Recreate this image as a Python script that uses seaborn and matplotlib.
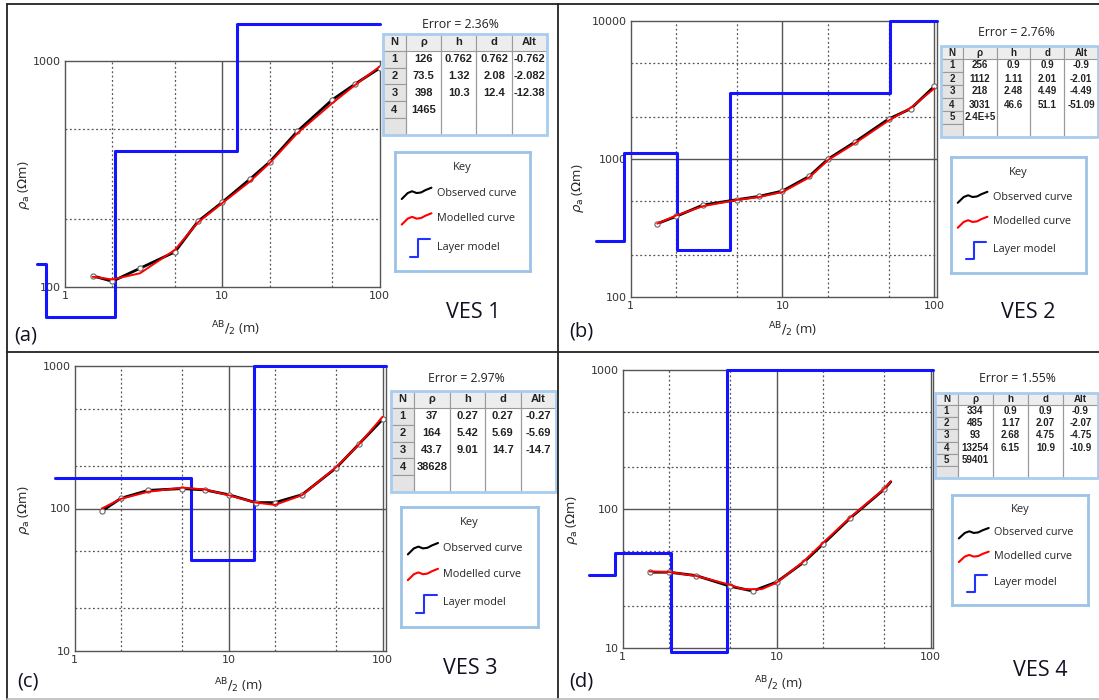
import matplotlib.pyplot as plt
import numpy as np
import seaborn as sns
from matplotlib.lines import Line2D
from matplotlib.patches import Rectangle
from matplotlib.ticker import LogLocator, NullFormatter

sns.set_style("white")
plt.rcParams["font.family"] = ["Open Sans", "DejaVu Sans"]
plt.rcParams["mathtext.fontset"] = "dejavusans"

# %%
# sounding data: AB/2 (m) vs apparent resistivity (ohm-m)
ves1_ab2 = [1.5, 2, 3, 5, 7, 10, 15, 20, 30, 50, 70, 100]
ves1_obs = [112, 106, 121, 143, 195, 237, 300, 357, 488, 673, 791, 929]
ves1_mod = [111, 108, 115, 146, 193, 235, 293, 353, 479, 650, 783, 944]
ves1_rho = [126, 73.5, 398, 1465]
ves1_depth = [0.762, 2.08, 12.4]
ves1_table = [["1", "126", "0.762", "0.762", "-0.762"],
              ["2", "73.5", "1.32", "2.08", "-2.082"],
              ["3", "398", "10.3", "12.4", "-12.38"],
              ["4", "1465", "", "", ""]]

ves2_ab2 = [1.5, 2, 3, 5, 7, 10, 15, 20, 30, 50, 70, 100]
ves2_obs = [340, 384, 464, 507, 536, 586, 749, 1000, 1328, 1950, 2318, 3365]
ves2_mod = [340, 390, 455, 505, 530, 576, 735, 985, 1300, 1900, 2350, 3250]
ves2_rho = [256, 1112, 218, 3031, 2.4e5]
ves2_depth = [0.9, 2.01, 4.49, 51.1]
ves2_table = [["1", "256", "0.9", "0.9", "-0.9"],
              ["2", "1112", "1.11", "2.01", "-2.01"],
              ["3", "218", "2.48", "4.49", "-4.49"],
              ["4", "3031", "46.6", "51.1", "-51.09"],
              ["5", "2.4E+5", "", "", ""]]

ves3_ab2 = [1.5, 2, 3, 5, 7, 10, 15, 20, 30, 50, 70, 100]
ves3_obs = [96, 118, 134, 138, 135, 125, 110, 110, 125, 193, 282, 422]
ves3_mod = [100, 117, 131, 140, 136, 124, 110, 106, 124, 195, 280, 440]
ves3_rho = [37, 164, 43.7, 38628]
ves3_depth = [0.27, 5.69, 14.7]
ves3_table = [["1", "37", "0.27", "0.27", "-0.27"],
              ["2", "164", "5.42", "5.69", "-5.69"],
              ["3", "43.7", "9.01", "14.7", "-14.7"],
              ["4", "38628", "", "", ""]]

ves4_ab2 = [1.5, 2, 3, 5, 7, 10, 15, 20, 30, 50]
ves4_obs = [35.1, 35.1, 33.2, 27.8, 25.7, 29.8, 41.4, 56, 86, 139]
ves4_curve_ab2 = [1.5, 2, 3, 5, 7, 10, 15, 20, 30, 50, 55]
ves4_curve_obs = [35.1, 35.1, 33.2, 27.8, 25.7, 29.8, 41.4, 56, 86, 139, 157]
ves4_mod_ab2 = [1.5, 2, 3, 5, 6, 8, 10, 15, 20, 30, 50, 55]
ves4_mod = [35.5, 35.2, 33, 28.5, 26.5, 26.5, 29.5, 42, 57, 87, 140, 158]
ves4_rho = [33.4, 48.5, 9.3, 1325.4, 5940.1]
ves4_depth = [0.9, 2.07, 4.75, 10.9]
ves4_table = [["1", "334", "0.9", "0.9", "-0.9"],
              ["2", "485", "1.17", "2.07", "-2.07"],
              ["3", "93", "2.68", "4.75", "-4.75"],
              ["4", "13254", "6.15", "10.9", "-10.9"],
              ["5", "59401", "", "", ""]]

errors = ["2.36%", "2.76%", "2.97%", "1.55%"]
names = ["VES 1", "VES 2", "VES 3", "VES 4"]
tags = ["(a)", "(b)", "(c)", "(d)"]
col_labels = ["N", "ρ", "h", "d", "Alt"]

panels = [
    dict(pts=(ves1_ab2, ves1_obs), obs=(ves1_ab2, ves1_obs), mod=(ves1_ab2, ves1_mod),
         rho=ves1_rho, depth=ves1_depth, table=ves1_table,
         xmax=100, ylim=(100, 1000), yticks=[100, 1000], x0=0.66, cap=2000, tfs=8),
    dict(pts=(ves2_ab2, ves2_obs), obs=(ves2_ab2, ves2_obs), mod=(ves2_ab2, ves2_mod),
         rho=ves2_rho, depth=ves2_depth, table=ves2_table,
         xmax=104, ylim=(100, 10000), yticks=[100, 1000, 10000], x0=0.59, cap=10000, tfs=7),
    dict(pts=(ves3_ab2, ves3_obs), obs=(ves3_ab2, ves3_obs), mod=(ves3_ab2, ves3_mod),
         rho=ves3_rho, depth=ves3_depth, table=ves3_table,
         xmax=105, ylim=(10, 1000), yticks=[10, 100, 1000], x0=0.74, cap=1000, tfs=8),
    dict(pts=(ves4_ab2, ves4_obs), obs=(ves4_curve_ab2, ves4_curve_obs), mod=(ves4_mod_ab2, ves4_mod),
         rho=ves4_rho, depth=ves4_depth, table=ves4_table,
         xmax=104, ylim=(10, 1000), yticks=[10, 100, 1000], x0=0.61, cap=1000, tfs=7),
]

# pixel layout of each panel (x0, y0, x1, y1 from top-left)
layout = [
    dict(ax=(65, 61, 379.5, 287), table=(383, 34, 547, 135), key=(395, 152, 530, 271),
         err=(460, 24), ves=(473, 313), tag=(26, 336), ylab=(32, 185), xlab=(235, 319)),
    dict(ax=(630.5, 21, 937, 297), table=(941, 46, 1098, 137), key=(951, 157, 1086, 273),
         err=(1016, 32), ves=(1028, 313), tag=(581, 332), ylab=(586, 188), xlab=(792, 320)),
    dict(ax=(74.7, 366, 385.8, 651), table=(391, 391, 556, 492), key=(401, 507, 538, 627),
         err=(466, 378), ves=(470, 668), tag=(28, 682), ylab=(32, 510), xlab=(238, 676)),
    dict(ax=(622.5, 370, 933.4, 648), table=(935, 393, 1098, 478), key=(952, 495, 1088, 605),
         err=(1017, 378), ves=(1040, 671), tag=(581, 682), ylab=(580, 520), xlab=(778, 674)),
]

W, H = 1099, 700
fig = plt.figure(figsize=(W / 100, H / 100), dpi=100)


def rect(box):
    x0, y0, x1, y1 = box
    return [x0 / W, 1 - y1 / H, (x1 - x0) / W, (y1 - y0) / H]


def layer_steps(rho, depth, x0, x1, cap):
    skip = sum(d <= x0 for d in depth)
    xs = [x0] + [d for d in depth if d > x0] + [x1]
    ys = list(rho[skip:]) + [rho[-1]]
    return xs, list(np.minimum(ys, cap))


def draw_table(box, rows, fs):
    ax_t = fig.add_axes(rect(box))
    ax_t.set_axis_off()
    cells = [list(r) for r in rows] + [[""] * 5]
    tbl = ax_t.table(cellText=cells, colLabels=col_labels,
                     colWidths=[0.14, 0.215, 0.215, 0.215, 0.215],
                     bbox=[0, 0, 1, 1], cellLoc="center")
    tbl.auto_set_font_size(False)
    for (r, c), cell in tbl.get_celld().items():
        cell.set_text_props(fontsize=fs, family="Liberation Sans",
                            fontweight="bold", color="#222222")
        cell.set_edgecolor("#9a9a9a")
        cell.set_linewidth(0.8)
        cell.PAD = 0.03
        if r == 0:
            cell.set_facecolor("#ededed")
        elif c == 0:
            cell.set_facecolor("#e4e4e4")
        else:
            cell.visible_edges = "LR"
    ax_t.add_patch(Rectangle((0, 0), 1, 1, transform=ax_t.transAxes, fill=False,
                             ec="#a9cdee", lw=2, clip_on=False))


def draw_key(box):
    ax_k = fig.add_axes(rect(box))
    ax_k.set_xlim(0, 1)
    ax_k.set_ylim(0, 1)
    ax_k.set_xticks([])
    ax_k.set_yticks([])
    for sp in ax_k.spines.values():
        sp.set_color("#9dc3e6")
        sp.set_linewidth(2)
    ax_k.text(0.5, 0.87, "Key", ha="center", va="center", fontsize=8)
    wig_x = np.array([0.0, 0.2, 0.35, 0.5, 0.65, 0.8, 1.0])
    wig_y = np.array([-0.5, 0.0, 0.15, 0.0, 0.05, 0.25, 0.45])
    for yy, col in [(0.655, "black"), (0.44, "red")]:
        ax_k.add_line(Line2D(0.05 + 0.22 * wig_x, yy + 0.1 * wig_y, color=col, lw=1.5))
    ax_k.add_line(Line2D([0.11, 0.17, 0.17, 0.26], [0.12, 0.12, 0.27, 0.27], color="#2233ff", lw=1.5))
    for yy, lab in [(0.655, "Observed curve"), (0.44, "Modelled curve"), (0.2, "Layer model")]:
        ax_k.text(0.31, yy, lab, ha="left", va="center", fontsize=7.8)


for p, lay, err, name, tag in zip(panels, layout, errors, names, tags):
    ax = fig.add_axes(rect(lay["ax"]))
    ax.set_xscale("log")
    ax.set_yscale("log")
    ax.set_xlim(1, p["xmax"])
    ax.set_ylim(*p["ylim"])

    # grid: solid at decades, dotted at 2 and 5
    for dec in [1, 10, 100, 1000, 10000]:
        if 1 < dec < p["xmax"]:
            ax.axvline(dec, color="#555555", lw=1, zorder=0.5)
        if p["ylim"][0] < dec < p["ylim"][1]:
            ax.axhline(dec, color="#555555", lw=1, zorder=0.5)
        for m in (2, 5):
            if 1 < dec * m < p["xmax"]:
                ax.axvline(dec * m, color="#555555", lw=0.9, ls=(0, (1.5, 2)), zorder=0.5)
            if p["ylim"][0] < dec * m < p["ylim"][1]:
                ax.axhline(dec * m, color="#555555", lw=0.9, ls=(0, (1.5, 2)), zorder=0.5)

    lx, ly = layer_steps(p["rho"], p["depth"], p["x0"], p["xmax"], p["cap"])
    sns.lineplot(x=lx, y=ly, drawstyle="steps-post", color="#1414ff", lw=2.2,
                 clip_on=False, zorder=3, legend=False, ax=ax)
    sns.lineplot(x=p["obs"][0], y=p["obs"][1], color="black", lw=2.0,
                 zorder=4, legend=False, ax=ax)
    sns.scatterplot(x=p["pts"][0], y=p["pts"][1], marker="o", s=14, facecolor="white",
                    edgecolor="#666666", linewidth=0.8, zorder=5, legend=False, ax=ax)
    sns.lineplot(x=p["mod"][0], y=p["mod"][1], color="#ff0000", lw=1.4,
                 zorder=6, legend=False, ax=ax)

    xt = [t for t in [1, 10, 100] if t <= p["xmax"]]
    ax.set_xticks(xt, [str(t) for t in xt])
    ax.set_yticks(p["yticks"], [str(t) for t in p["yticks"]])
    for axis in (ax.xaxis, ax.yaxis):
        axis.set_minor_locator(LogLocator(base=10, subs=np.arange(2, 10)))
        axis.set_minor_formatter(NullFormatter())
    ax.tick_params(which="both", direction="in", color="#555555", labelsize=8,
                   labelcolor="#333333", pad=3)
    ax.tick_params(which="major", length=3)
    ax.tick_params(which="minor", length=2.5)
    for t in ax.get_xticklabels() + ax.get_yticklabels():
        t.set_family("DejaVu Sans")
    for sp in ax.spines.values():
        sp.set_color("#555555")
        sp.set_linewidth(1)

    ax.set_xlabel(r"$^{\mathrm{AB}}/_{2}$ (m)", fontsize=9.5)
    ax.set_ylabel(r"$\rho_{\mathrm{a}}$ ($\Omega$m)", fontsize=9.5)
    ax.xaxis.set_label_coords(lay["xlab"][0] / W, 1 - lay["xlab"][1] / H, transform=fig.transFigure)
    ax.yaxis.set_label_coords(lay["ylab"][0] / W, 1 - lay["ylab"][1] / H, transform=fig.transFigure)

    fig.text(lay["err"][0] / W, 1 - lay["err"][1] / H, f"Error = {err}",
             ha="center", va="center", fontsize=8.8, color="#222222")
    fig.text(lay["ves"][0] / W, 1 - lay["ves"][1] / H, name,
             ha="center", va="center", fontsize=15.5, color="#111122")
    fig.text(lay["tag"][0] / W, 1 - lay["tag"][1] / H, tag,
             ha="center", va="center", fontsize=14.5, color="#111122")

    draw_table(lay["table"], p["table"], p["tfs"])
    draw_key(lay["key"])

# outer frame and dividers
frame = [([7, 1099], [4, 4]), ([7, 7], [4, 699]), ([558, 558], [4, 699]),
         ([7, 1099], [352, 352])]
for xs, ys in frame:
    fig.add_artist(Line2D([x / W for x in xs], [1 - y / H for y in ys],
                          color="#222222", lw=1.3, transform=fig.transFigure))
fig.add_artist(Line2D([7 / W, 1], [1 - 698.5 / H] * 2, color="#bbbbbb", lw=1.2,
                      transform=fig.transFigure))

plt.savefig("out.png", dpi=100)
